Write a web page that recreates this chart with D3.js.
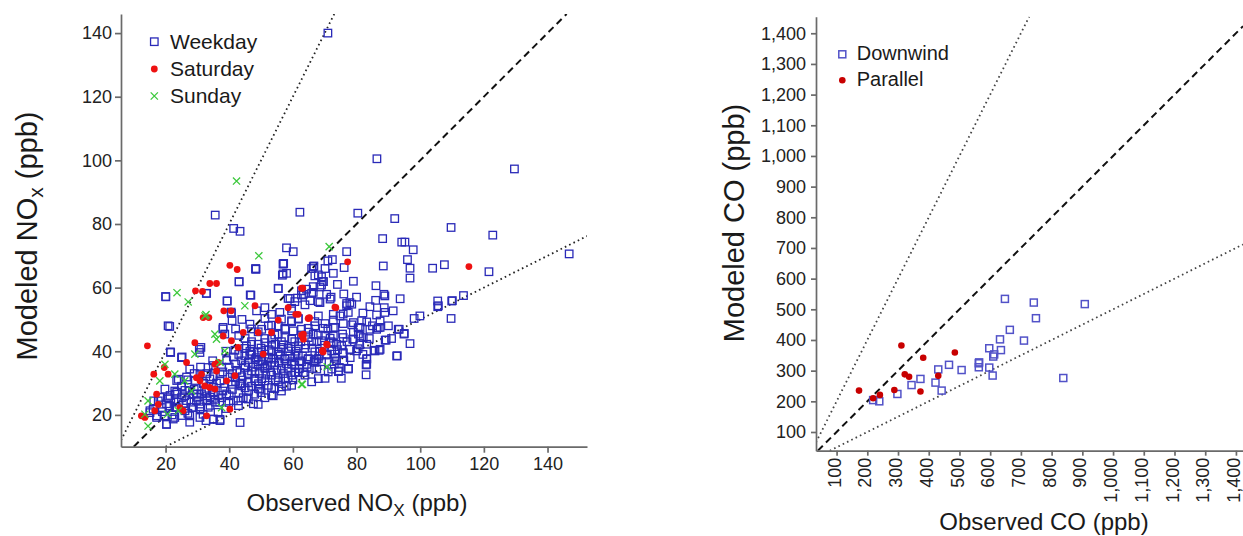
<!DOCTYPE html>
<html>
<head>
<meta charset="utf-8">
<script src="https://cdn.jsdelivr.net/npm/d3@7"></script>
<style>
body { margin: 0; background: #fff; }
text { font-family: "Liberation Sans", Arial, Helvetica, sans-serif; fill: #1a1a1a; }
.axis path, .axis line { stroke: #6a6a6a; stroke-width: 1.7; }
.axis text { font-size: 18px; fill: #222; }
</style>
</head>
<body>
<svg id="chart" width="1243" height="536"></svg>
<script>
// NOx panel: [observed, modeled] (ppb)
const weekday = [
  [71,140],[86.4,100.5],[129.6,97.3],[146.8,70.6],[35.6,82.8],[41.4,78.6],[43.4,77.7],[62.2,83.7],
  [58,72.5],[60.1,71.3],[57,67.5],[48.3,66],[66.4,66.6],[71,68.4],[80.4,83.4],[92,81.7],[109.7,78.9],
  [122.8,76.5],[88.2,75.4],[94.2,74.3],[95.2,74.3],[97.8,71.9],[76.9,71.3],[72.4,68.8],[96,68.8],
  [88.4,66.8],[107.6,67.2],[103.9,66.1],[96.8,66.1],[121.6,65],[66.6,66.8],[70.1,66],[76.1,66.3],
  [96.8,63],[72.7,64.5],[66.9,63.7],[69,63.4],[86.1,60.6],[88.6,57.9],[88.9,57.4],[93.7,56.5],
  [105.5,55.8],[105.5,54],[110.1,55.9],[113.6,57.5],[109.7,50.3],[99.9,51.1],[98.1,50.3],[96.8,42.4],
  [94.9,45.4],[93.1,46.9],[92.6,38.5],[89,43.5],[87.1,40.3],[85.5,40.3],[83,32.6],[83,35.7],[83.2,37.5],
  [77.5,34.6],[75.2,31.5],[74.4,33.8],[70.1,31.5],[84.2,54],[88.7,53.7],[91.5,52.7],[88.9,52.2],
  [86.3,51.4],[77.9,55.3],[78.5,54.8],[77.4,52.2],[81.6,49.6],[83.2,49.2],[86.3,46.9],[86.8,47.4],
  [80.5,47.4],[79,49],[75.8,48.7],[75.8,51.7],[74.8,51.1],[72.7,49.8],[72.7,47.4],[75.6,45.4],
  [78.8,43.8],[81.1,44.8],[80.5,40.8],[77.9,40.6],[75.8,39.6],[73.2,39.1],[73.7,42.2],[71.7,44.1],
  [72.2,40.1],[68.2,38.5],[66.7,37],[73.7,37],[72.2,34.4],[74.6,34.9],[64.3,59.5],[63.3,57.9],
  [66.4,58.5],[68.5,60.2],[69.6,61.9],[70.6,57.9],[71.7,56.4],[65.4,55.9],[68.5,55.3],[76.9,55],
  [105.7,54.3],[109.9,55.8],[76.9,54.3],[72.7,51.6],[70.1,48.7],[73.2,47.5],[78.5,48.3],[87.4,49.5],
  [87.4,47.5],[84.2,46.9],[81.1,47.5],[80.6,45.4],[82.1,44.3],[79,43.8],[75.8,44.3],[72.7,44.8],
  [68,51.1],[66.9,48],[66.4,45.4],[64.8,44.3],[69,43.3],[72.7,42.7],[75.3,41.7],[80,40.1],[83.2,42.2],
  [85.8,40.1],[87.4,40.6],[89.3,43.5],[93.4,46.9],[95,45.6],[92.8,38.6],[83.2,37.7],[83.2,35.9],
  [77.4,34.4],[74.3,33.6],[73.2,37.8],[75.8,39.3],[70.6,39.1],[67.5,37.5],[64.8,37.5],[64.3,35.9],
  [67.5,34.4],[63.3,33.3],[20,57.2],[32.8,58.2],[39.3,55.8],[43.1,61.9],[48.3,65.8],[56.9,67.4],
  [56.9,64.3],[58,64.5],[55.4,59.8],[46.6,57.7],[40.6,52.3],[38,47],[21.3,47.8],[21.5,39.8],[25,38],
  [30.6,40.6],[43.4,17.6],[32.7,18.2],[32.9,58.2],[20.1,57.1],[39.4,55.8],[46.8,57.6],[55.4,59.7],
  [59.1,56.6],[61.4,56.7],[62.7,59],[43.1,61.8],[48.4,65.8],[57.1,67.6],[56.7,63.9],
  [20.8,48],[21.6,39.6],[25.2,38.2],[31.1,41.2],[30.8,39.6],[34.8,37],[40.7,51.9],[40.9,49.6],
  [38.1,47.5],[38.6,45.4],[41.8,40.3],[33.4,34.9],[27.6,34.4],[24,31.2],[19.8,28.1],[17.7,24.4],
  [15.1,20.7],[17.2,19.7],[20.3,17],[22.9,19.2],[27.6,19.7],[31.8,20.2],[35,18.6],[37.1,18.6],
  [49.1,23.3],[44.4,25.4],[42.8,24.4],[39.9,23.9],[37.6,25.4],[35.5,24.9],[32.9,24.4],[30.8,23.4],
  [28.7,22.3],[26.1,21.3],[23.4,22.3],[21.3,22.8],[18.7,22.3],[27.6,27.5],[29.7,26.5],[32.3,27.5],
  [34.4,29.6],[37.1,30.7],[38.6,28.6],[40.7,29.6],[41.8,31.7],[43.4,33.3],[44.9,34.9],[47,33.8],
  [49.1,35.9],[51.2,34.9],[53.3,36.5],[51.2,30.7],[53.3,28.6],[56.4,27.5],[53.8,26],[51.2,25.4],
  [49.6,28.1],[48.1,30.7],[46,30.2],[43.9,29.1],[55.4,31.7],[58.5,31.7],[60.6,33.3],[59.6,35.9],
  [57.5,37.5],[55.4,39.1],[53.3,40.1],[51.2,39.1],[49.1,39.6],[47,39.1],[44.9,38.5],[43.9,37],
  [46,36.5],[48.1,37.5],[50.2,37],[52.3,38],[54.4,42.2],[56.4,41.2],[58.5,40.1],[60.6,38.5],
  [62.2,37],[61.7,41.7],[59.6,43.8],[57.5,44.3],[55.4,45.4],[53.3,43.8],[51.2,42.7],[49.1,42.2],
  [47,42.2],[45.4,41.7],[50.2,46.9],[52.3,48],[55.4,48],[56.4,50.1],[59.6,49.6],[61.7,50.1],
  [62.7,46.9],[60.1,46.4],[57.5,46.9],[48.6,52.7],[51.2,53.7],[53.3,51.6],[55.9,52.2],[59.6,52.7],
  [46.5,48.5],[22.9,27.5],[25,25.4],[20.8,25.4],[16.1,21.8],[19.8,19.7],
  [17.2,19.2],[15.1,21.3],[16.3,24.4],[18.2,25.5],[20.3,17.1],[22.4,18.7],[25,19.8],[27.6,17.7],
  [30.8,19.2],[35,18.7],[37.1,18.2],[36.5,20.8],[33.4,22.4],[30.8,21.9],[28.2,22.4],[25.6,23.5],
  [23,22.4],[20.3,23.5],[21.4,26.1],[23.5,27.1],[26.1,27.7],[28.7,26.6],[31.3,26.6],[34,25.6],
  [36.6,26.1],[39.2,26.6],[41.3,24.5],[42.9,22.9],[35,28.7],[31.9,29.8],[29.2,30.8],[26.6,31.9],
  [30.8,32.9],[33.9,31.3],[37.1,32.9],[40.2,31.9],[37.6,35],[35,35.5],[39.2,37.1],[41.3,38.2],
  [42.4,34],[43.4,29.8],[46.1,27.7],[47.6,23.5],[45.5,25.1],[49.2,29.8],[26.6,24.5],[29.7,24.5],
  [25,28.9],[23.5,30.8],[32.8,27.1],[35.7,24],
  [51.2,44],[53.3,41.9],[55.4,39.8],[57.5,37.7],[59.6,36.7],[61.7,38.8],[63.8,40.9],[65.9,43],
  [68,45.1],[70,41.9],[68,37.7],[65.9,34.6],[63.8,32.5],[61.7,33.5],[59.6,32.5],[57.5,31.4],
  [55.4,30.4],[53.3,32.5],[51.2,34.6],[49.1,36.7],[50.2,39.8],[52.3,37.7],[54.3,35.6],[56.4,34.6],
  [58.5,34.6],[60.6,35.6],[62.7,36.7],[64.8,37.7],[66.9,39.8],[69,36.7],[58.5,40.9],[60.6,43],
  [62.7,45.1],[64.8,47.2],[56.4,43],[54.3,45.1],[57.5,47.2],[59.6,49.3],[61.7,50.3],[53.3,48.2],
  [51.2,50.3],[49.1,46.1],[47,43],[44.9,40.9],[46.5,38.8],[48.1,33.5],[50.2,31.4],[52.3,29.3],
  [54.3,28.3],[49.1,28.3],[53.3,26.2],[56.4,28.8],[59.6,29.3],[68,31.4],[65.9,30.4],[71.1,33.5],
  [70.5,38.8],[69.5,47.2],[66.9,49.3],[68,55.6],[63.8,54.6],[59.6,53.5],[65.9,58.2],[69,60.8],
  [68,64],[69.5,61.9],[65.9,66],[62.7,57.7],[60.6,55.6],[58.5,56.6],[66.4,60.3],
  [42,36],[43,39],[44,32],[45,35.5],[46,33],[46.5,40],[47.5,35],[48,31.5],[48.5,38],[49.5,33],
  [50,41],[50.5,36],[51.5,32.5],[52,35.5],[52.5,40.5],[53,33.5],[54,37.5],[54.5,31],[55,34],
  [55.5,36.5],[56,38.5],[57,33],[57,42],[58,36],[58,29],[59,38.5],[59.5,41.5],[60,31],[61,40],
  [62,34.5],[62.5,43],[63,38.5],[64,42],[64.5,35],[65,46],[66,41],[67,36.5],[67.5,43],[68.5,40],
  [70,45],[71,47],[72,43],[73,36],[74,40.5],[76,37],[77,43],[78,38],[79,46],[81,42],[82,39],
  [84,44],[85,48],[90,48],[91,44],[86,56],[82,52],[80,57],[76,58],[74,61],[72,57],[79,62],
  [22,20],[24,24],[26,26],[27,20.5],[28,24],[29,28],[30,25.5],[31,22.5],[32,30],[33,26],[34,23],
  [35,27],[36,30],[37,24],[38,27.5],[39,22],[40,26],[41,28],[42,30.5],[43,27],[44,30],[45,28.5],
  [46,25],[47,29],[48,26.5],[50,27],[19,21],[21,25],[23,26.5],[25,29],[27,31],[29,33],[31,35],
  [33,33],[35,32],[38,33.5],[40,35],[41,33],[39,40],[43,45],[45,44],[47,47],[44,50],[42,47]
]
const saturday = [
  [40.2,67],[42.5,65.7],[77.2,68.1],[115.3,66.6],[73.2,53.9],[65.1,50.4],[69.4,40.3],[70.6,42.2],
  [63.1,59.8],[73.5,53.7],[65.2,50.6],[70.8,42],[69.3,40.1],[63.3,45.4],[63.3,43.8],
  [14.3,41.7],[16.3,32.8],[17.2,26.5],[12.4,19.7],[13.5,19.2],[16.6,21.3],[17.7,23.3],[19.6,34.9],
  [20.8,32.8],[24.5,22.3],[25.5,21.3],[26.6,36.5],[29.2,42.7],[31.3,32.8],[32.3,29.1],[33.9,28.6],
  [35.5,28.1],[32.9,19.7],[31.8,50.6],[38.3,52.7],[38.1,44.8],[40.7,43.3],[42.8,41.2],[39.2,30.7],
  [41.8,32.3],[40.2,21.8],[48.1,54.3],[49.1,45.9],[44.4,45.9],[58.5,53.7],[61.7,51.6],[53.3,45.9],
  [50.7,39.1],[35.5,35.9],[36.5,36.5],[36,33.8],[30.8,30.7],[29.7,31.7],[31.6,58.8],[36,61.3],
  [33.6,50.6],[40.6,52.7],[33.9,61.3],[29.4,59],[62.7,59.8],[62.7,45.1],[60.9,51.6],[64.8,50.3],
  [69.5,39.8],[55.4,49.8]
]
const sunday = [
  [42.3,93.5],[49.3,70],[71.4,72.9],[70.8,35.1],[63,29.6],[23.6,58.4],[27.1,55.5],[44.9,54.3],
  [32.7,51.5],[32.4,51.1],[35.5,45.4],[36,43.8],[38.6,40.1],[19.8,35.9],[18.2,30.7],[22.9,32.8],
  [26,30.7],[29.2,39.1],[37.1,36.5],[14.5,24.4],[13.5,20.2],[14.5,16.5],[20.6,20.2],[24,21.3],
  [37.6,22.3],[28.2,27.5],[62.7,29.6]
]
const noxTicks = [20, 40, 60, 80, 100, 120, 140]

// CO panel: [observed, modeled] (ppb)
const downwind = [
  [219,204],[239,200],[298,224],[344,253],[373,273],[422,261],[431,304],[442,235],[466,319],
  [507,302],[563,324],[563,311],[564,327],[597,310],[608,284],[597,373],[610,346],[613,353],
  [635,367],[632,402],[664,433],[648,534],[710,398],[742,522],[749,471],[838,276],[908,517]
]
const parallel = [
  [173,235],[219,210],[241,221],[288,237],[311,382],[322,288],[336,280],[373,232],[382,342],
  [431,283],[485,359]
]
const coTicks = [100, 200, 300, 400, 500, 600, 700, 800, 900, 1000, 1100, 1200, 1300, 1400]

const svg = d3.select('#chart')

// reference lines: 1:1 dashed, 2:1 and 1:2 dotted
function refLines(g, x, y, dottedColor) {
    const [x0, x1] = x.domain(), [y0, y1] = y.domain()
    ;[[1, '7,4.5', '#111', 2], [2, '1.6,3.2', dottedColor, 1.8], [0.5, '1.6,3.2', dottedColor, 1.8]]
        .forEach(([k, dash, col, w]) => {
            const xa = Math.max(x0, y0 / k), xb = Math.min(x1, y1 / k)
            g.append('line')
                .attr('x1', x(xa)).attr('y1', y(xa * k))
                .attr('x2', x(xb)).attr('y2', y(xb * k))
                .attr('stroke', col)
                .attr('stroke-width', w)
                .attr('stroke-dasharray', dash)
        })
}

function square(g, data, x, y, size, color, sw) {
    g.selectAll(null).data(data).enter().append('rect')
        .attr('x', d => x(d[0]) - size / 2)
        .attr('y', d => y(d[1]) - size / 2)
        .attr('width', size).attr('height', size)
        .attr('fill', 'none').attr('stroke', color).attr('stroke-width', sw)
}

function dot(g, data, x, y, r, color) {
    g.selectAll(null).data(data).enter().append('circle')
        .attr('cx', d => x(d[0])).attr('cy', d => y(d[1])).attr('r', r)
        .attr('fill', color)
}

function cross(g, data, x, y, s, color) {
    g.selectAll(null).data(data).enter().append('path')
        .attr('d', d => {
            const cx = x(d[0]), cy = y(d[1])
            return `M${cx - s},${cy - s}L${cx + s},${cy + s}M${cx - s},${cy + s}L${cx + s},${cy - s}`
        })
        .attr('stroke', color).attr('stroke-width', 1.3).attr('fill', 'none')
}

// title with a subscript part
function title(g, parts, size) {
    const t = g.append('text').attr('font-size', size).attr('text-anchor', 'middle')
    t.append('tspan').text(parts[0])
    t.append('tspan').attr('font-size', size * 0.72).attr('dy', size * 0.22).text(parts[1])
    t.append('tspan').attr('dy', -size * 0.22).text(parts[2])
    return t
}

// ---------- left panel: NOx ----------
const xL = d3.scaleLinear().domain([6, 152.4]).range([121, 587])
const yL = d3.scaleLinear().domain([10, 146]).range([446.7, 14])

const left = svg.append('g')
const clipL = svg.append('clipPath').attr('id', 'clipL')
clipL.append('rect').attr('x', 121).attr('y', 14).attr('width', 466).attr('height', 433)
refLines(left.append('g').attr('clip-path', 'url(#clipL)'), xL, yL, '#222')

square(left.append('g'), weekday, xL, yL, 7.5, '#2a2ab8', 1.3)
dot(left.append('g'), saturday, xL, yL, 3.4, '#ee1111')
cross(left.append('g'), sunday, xL, yL, 3.6, '#3cc83c')

left.append('g').attr('class', 'axis')
    .attr('transform', 'translate(121,0)')
    .call(d3.axisLeft(yL).tickValues(noxTicks).tickSize(6).tickSizeOuter(0).tickPadding(3))
left.append('g').attr('class', 'axis')
    .attr('transform', 'translate(0,446.7)')
    .call(d3.axisBottom(xL).tickValues(noxTicks).tickSize(6).tickSizeOuter(0).tickPadding(5))

title(left, ['Modeled NO', 'x', ' (ppb)'], 29)
    .attr('transform', 'translate(37,236) rotate(-90)')
title(left, ['Observed NO', 'X', ' (ppb)'], 24)
    .attr('transform', 'translate(357,511)')

// legend
const legL = left.append('g').attr('font-size', 21)
square(legL, [[0, 0]], () => 154.3, () => 41.7, 7.5, '#2a2ab8', 1.3)
dot(legL, [[0, 0]], () => 154.3, () => 69, 3.4, '#ee1111')
cross(legL, [[0, 0]], () => 154.3, () => 96, 3.6, '#3cc83c')
;['Weekday', 'Saturday', 'Sunday'].forEach((s, i) => {
    legL.append('text').attr('x', 170).attr('y', 48.5 + i * 27).text(s)
})

// ---------- right panel: CO ----------
const xR = d3.scaleLinear().domain([33, 1423]).range([816, 1243])
const yR = d3.scaleLinear().domain([39, 1454]).range([450.7, 16.7])

const right = svg.append('g')
const clipR = svg.append('clipPath').attr('id', 'clipR')
clipR.append('rect').attr('x', 816).attr('y', 16.7).attr('width', 427).attr('height', 434)
refLines(right.append('g').attr('clip-path', 'url(#clipR)'), xR, yR, '#444')

square(right.append('g'), downwind, xR, yR, 7, '#5252c8', 1.5)
dot(right.append('g'), parallel, xR, yR, 3.3, '#c80000')

right.append('g').attr('class', 'axis')
    .attr('transform', 'translate(816,0)')
    .call(d3.axisLeft(yR).tickValues(coTicks).tickFormat(d3.format(',')).tickSize(5).tickSizeOuter(0).tickPadding(5))
right.append('g').attr('class', 'axis')
    .attr('transform', 'translate(0,450.7)')
    .call(d3.axisBottom(xR).tickValues(coTicks).tickFormat(d3.format(',')).tickSize(5).tickSizeOuter(0))
    .selectAll('text')
    .attr('transform', 'rotate(-90)')
    .attr('text-anchor', 'end')
    .attr('x', -7).attr('y', 0).attr('dy', '0.2em')

right.append('text').attr('font-size', 29).attr('text-anchor', 'middle')
    .attr('transform', 'translate(744,223) rotate(-90)')
    .text('Modeled CO (ppb)')
right.append('text').attr('font-size', 24).attr('text-anchor', 'middle')
    .attr('x', 1044).attr('y', 530)
    .text('Observed CO (ppb)')

const legR = right.append('g').attr('font-size', 20)
square(legR, [[0, 0]], () => 842.3, () => 54.3, 7, '#5252c8', 1.5)
dot(legR, [[0, 0]], () => 842.3, () => 80.3, 3.3, '#c80000')
;['Downwind', 'Parallel'].forEach((s, i) => {
    legR.append('text').attr('x', 856.7).attr('y', 59.5 + i * 26.3).text(s)
})
</script>
</body>
</html>
